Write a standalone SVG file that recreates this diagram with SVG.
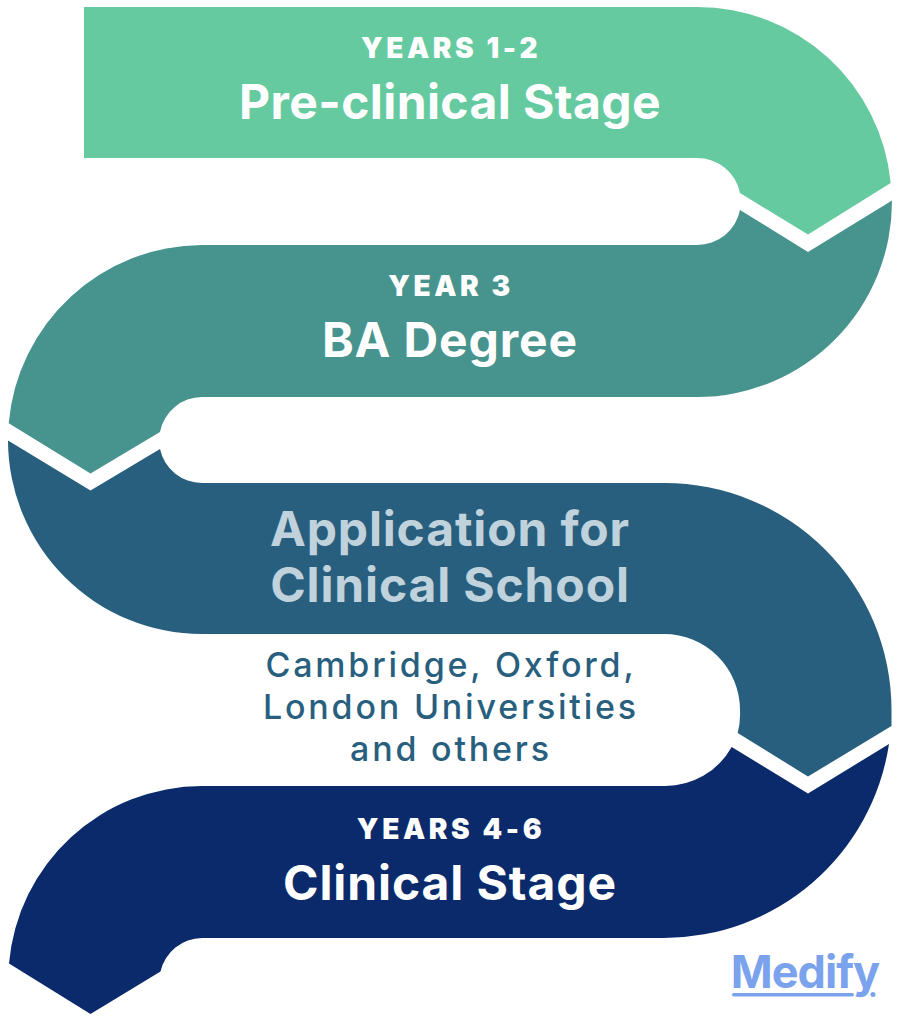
<svg xmlns="http://www.w3.org/2000/svg" width="900" height="1024" viewBox="0 0 900 1024">
<style>
text{font-family:"Inter","Liberation Sans",sans-serif;text-anchor:middle}
.over{font-size:28px;font-weight:900;letter-spacing:3.600px;fill:#fff}
.head{font-size:48px;font-weight:700;letter-spacing:.4px;fill:#fff}
.wide{letter-spacing:.9px}
.pale{font-size:48px;font-weight:700;letter-spacing:.85px;fill:#C0D2DC}
.sub{font-size:34px;font-weight:500;letter-spacing:2.800px;fill:#295F7E}
</style>
<rect width="900" height="1024" fill="#fff"/>
<g id="stage-preclinical">
<path fill="#66CAA0" d="M84,7H697A194.500,194.500 0 0 1 890.700,183L808,234.500L740,193A43.500,43.500 0 0 0 697,158H84Z"/>
<text class="over" x="451" y="58">YEARS 1-2</text>
<text class="head" x="450" y="119">Pre-clinical Stage</text>
</g>
<g id="stage-ba">
<path fill="#47948E" d="M202,245H697A43.500,43.500 0 0 0 740,210L808,252L892,200.500A195.500,195.500 0 0 1 697,397H202A43,43 0 0 0 160,432L90.500,473.500L8.700,423.300A195,195 0 0 1 202,245Z"/>
<text class="over" x="451" y="296">YEAR 3</text>
<text class="head wide" x="450" y="357">BA Degree</text>
</g>
<g id="stage-application">
<path fill="#295F7E" d="M202,483H664A227,227 0 0 1 891.500,710V726L808,776.500L737.700,733A76,76 0 0 0 740,710A76,76 0 0 0 664,634H202A194,194 0 0 1 8,440.500L90.500,490.500L160,449A43,43 0 0 0 202,483Z"/>
<text class="pale" x="450" y="546">Application for</text>
<text class="pale" x="450" y="602">Clinical School</text>
<text class="sub" x="451" y="677">Cambridge, Oxford,</text>
<text class="sub" x="451" y="719">London Universities</text>
<text class="sub" x="451" y="761">and others</text>
</g>
<g id="stage-clinical">
<path fill="#0B2A6B" d="M202,786H664A76,76 0 0 0 731.700,747L808,793.500L889,744A228,228 0 0 1 664,938H202A43,43 0 0 0 160.500,971.500L90.500,1014L9,963.500A194,194 0 0 1 202,786Z"/>
<text class="over" x="451" y="839">YEARS 4-6</text>
<text class="head wide" x="450" y="900">Clinical Stage</text>
</g>
<g id="logo">
<text x="805" y="988" font-size="45" font-weight="700" letter-spacing="-1" fill="#7BA2EC">Medify</text>
<rect x="732" y="993" width="122" height="3.500" rx="1.700" fill="#7BA2EC"/>
<circle cx="873" cy="994.500" r="2.500" fill="#7BA2EC"/>
</g>
</svg>
